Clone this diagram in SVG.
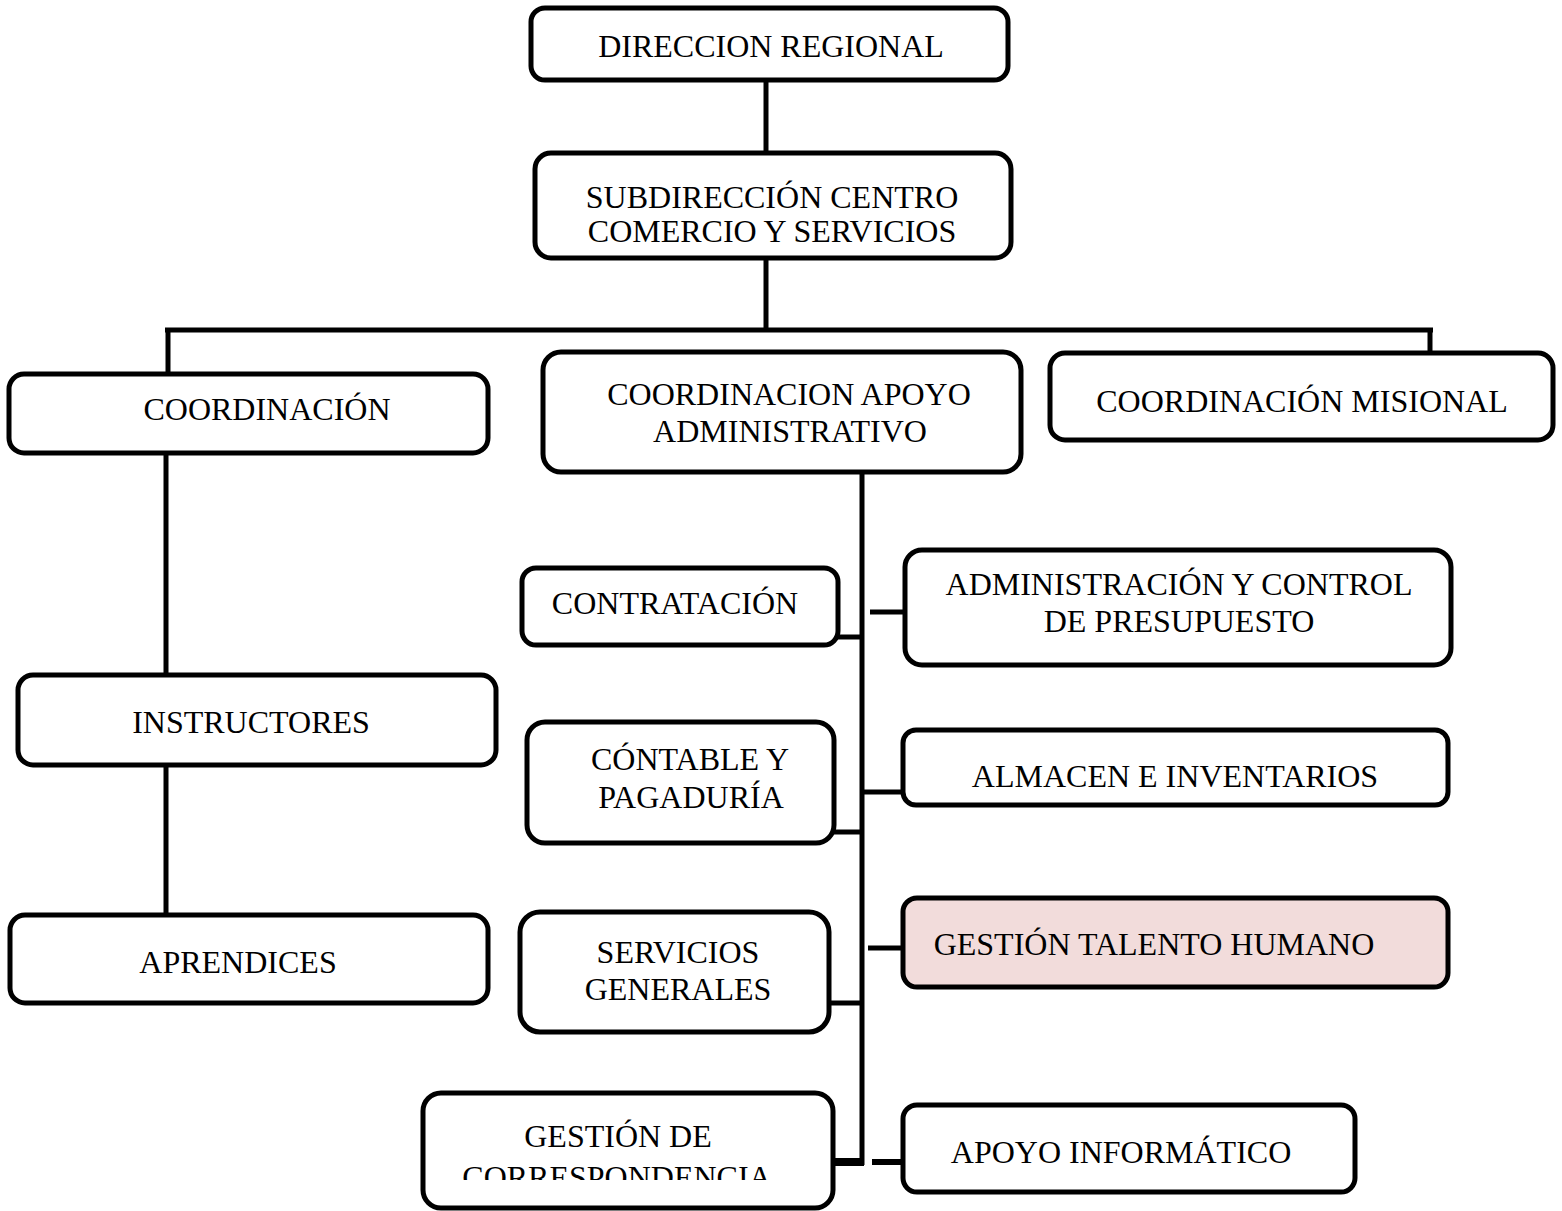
<svg xmlns="http://www.w3.org/2000/svg" width="1562" height="1211" viewBox="0 0 1562 1211">
<style>
.box{fill:#fff;stroke:#000;stroke-width:5}
.pink{fill:#f2dcdb}
.t{font-family:"Liberation Serif","Times New Roman",serif;font-size:32px;fill:#000;text-anchor:middle}
.c{stroke:#000;stroke-width:5;fill:none}
</style>
<defs>
<clipPath id="clipCorr"><rect x="423" y="1093" width="410" height="87"/></clipPath>
</defs>
<rect width="1562" height="1211" fill="#fff"/>
<g id="connectors">
<line class="c" x1="766" y1="80" x2="766" y2="153"/>
<line class="c" x1="766" y1="258" x2="766" y2="330"/>
<line class="c" x1="165" y1="330" x2="1433" y2="330"/>
<line class="c" x1="168" y1="330" x2="168" y2="374"/>
<line class="c" x1="1430" y1="330" x2="1430" y2="353"/>
<line class="c" x1="166" y1="453" x2="166" y2="675"/>
<line class="c" x1="166" y1="765" x2="166" y2="915"/>
<line class="c" x1="862" y1="472" x2="862" y2="1165"/>
<line class="c" x1="838" y1="637" x2="864" y2="637"/>
<line class="c" x1="870" y1="612" x2="905" y2="612"/>
<line class="c" x1="834" y1="832" x2="862" y2="832"/>
<line class="c" x1="862" y1="792" x2="903" y2="792"/>
<line class="c" x1="868" y1="948" x2="903" y2="948"/>
<line class="c" x1="829" y1="1003" x2="862" y2="1003"/>
<line class="c" x1="833" y1="1162" x2="864" y2="1162" style="stroke-width:8"/>
<line class="c" x1="872" y1="1162" x2="903" y2="1162" style="stroke-width:6"/>
</g>
<g id="n-direccion"><rect class="box" x="531" y="8" width="477" height="72" rx="14"/><text class="t" x="771" y="57">DIRECCION REGIONAL</text></g>
<g id="n-subdireccion"><rect class="box" x="535" y="153" width="476" height="105" rx="16"/><text class="t" x="772" y="208">SUBDIRECCIÓN CENTRO</text><text class="t" x="772" y="242">COMERCIO Y SERVICIOS</text></g>
<g id="n-coordinacion"><rect class="box" x="9" y="374" width="479" height="79" rx="15"/><text class="t" x="267" y="420">COORDINACIÓN</text></g>
<g id="n-apoyo-adm"><rect class="box" x="543" y="352" width="478" height="120" rx="18"/><text class="t" x="789" y="405">COORDINACION APOYO</text><text class="t" x="790" y="442">ADMINISTRATIVO</text></g>
<g id="n-misional"><rect class="box" x="1050" y="353" width="503" height="87" rx="15"/><text class="t" x="1302" y="412">COORDINACIÓN MISIONAL</text></g>
<g id="n-instructores"><rect class="box" x="18" y="675" width="478" height="90" rx="15"/><text class="t" x="251" y="733">INSTRUCTORES</text></g>
<g id="n-aprendices"><rect class="box" x="10" y="915" width="478" height="88" rx="15"/><text class="t" x="238" y="973">APRENDICES</text></g>
<g id="n-contratacion"><rect class="box" x="522" y="568" width="316" height="77" rx="14"/><text class="t" x="675" y="614">CONTRATACIÓN</text></g>
<g id="n-admin-presupuesto"><rect class="box" x="905" y="550" width="546" height="115" rx="17"/><text class="t" x="1179" y="595">ADMINISTRACIÓN Y CONTROL</text><text class="t" x="1179" y="632">DE PRESUPUESTO</text></g>
<g id="n-contable"><rect class="box" x="527" y="722" width="307" height="121" rx="18"/><text class="t" x="690" y="770">CÓNTABLE Y</text><text class="t" x="691" y="808">PAGADURÍA</text></g>
<g id="n-almacen"><rect class="box" x="903" y="730" width="545" height="75" rx="13"/><text class="t" x="1175" y="787">ALMACEN E INVENTARIOS</text></g>
<g id="n-servicios"><rect class="box" x="520" y="912" width="309" height="120" rx="20"/><text class="t" x="678" y="963">SERVICIOS</text><text class="t" x="678" y="1000">GENERALES</text></g>
<g id="n-talento"><rect class="box pink" x="903" y="898" width="545" height="89" rx="14"/><text class="t" x="1154" y="955">GESTIÓN TALENTO HUMANO</text></g>
<g id="n-correspondencia"><rect class="box" x="423" y="1093" width="410" height="115" rx="18"/><text class="t" x="618" y="1147">GESTIÓN DE</text><text class="t" x="617" y="1188" clip-path="url(#clipCorr)">CORRESPONDENCIA</text></g>
<g id="n-informatico"><rect class="box" x="903" y="1105" width="452" height="87" rx="14"/><text class="t" x="1121" y="1163">APOYO INFORMÁTICO</text></g>
</svg>
